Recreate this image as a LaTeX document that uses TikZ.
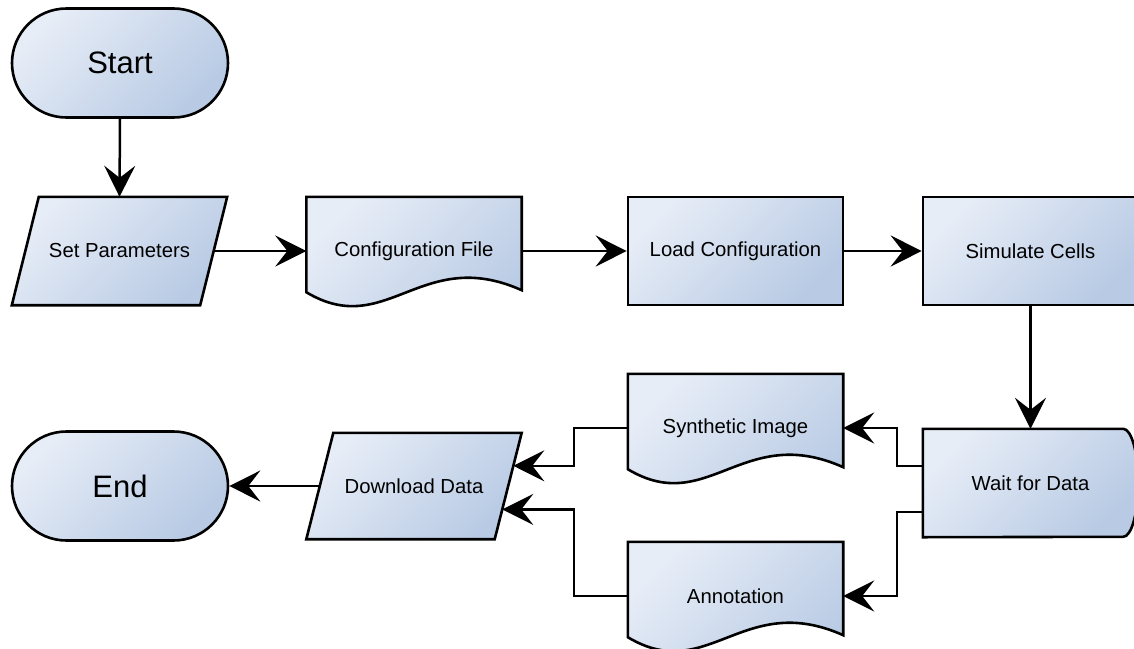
\documentclass[tikz,border=0pt]{standalone}
\usepackage{fontspec}
\setmainfont{Liberation Sans}
\usetikzlibrary{arrows.meta}
\usetikzlibrary{shapes.misc}
\usetikzlibrary{calc}
\usetikzlibrary{backgrounds}
\usepackage{xcolor}

\definecolor{boxlight}{RGB}{231,237,247}
\definecolor{boxdark}{RGB}{184,202,228}

% outlines drawn round a plain node
\newcommand{\docshape}[1]{%
  \path [boxfill] (#1.north west) -- (#1.north east) -- ($(#1.south east)+(0,-15)$)
    .. controls ($(#1.south west)+(115,-60)$) and ($(#1.south west)+(80,35)$) .. ($(#1.south west)+(0,-13)$) -- cycle;}
\newcommand{\ioshape}[1]{%
  \path [boxfill] ([xshift=27pt]#1.north west) -- (#1.north east) -- ([xshift=-27pt]#1.south east) -- (#1.south west) -- cycle;}
\newcommand{\delayshape}[1]{%
  \path [boxfill] (#1.north west) -- ([xshift=-15pt]#1.north east)
    arc [start angle=90, end angle=-90, x radius=15pt, y radius=54pt] -- (#1.south west) -- cycle;}

\begin{document}
\begin{tikzpicture}[x=1pt, y=-1pt,
    >={Stealth[length=31pt, width=31pt, inset=12pt]},
    flow/.style={->, draw=black, line width=2.5pt},
    boxfill/.style={draw=black, line width=2.6pt, top color=boxlight, bottom color=boxdark, shading angle=45},
    steptext/.style={font=\fontsize{20.3}{24}\selectfont, minimum width=215pt, minimum height=108pt, inner sep=0pt},
    terminal/.style={rounded rectangle, boxfill, minimum width=216pt, minimum height=109pt, inner sep=0pt, font=\fontsize{31}{36}\selectfont},
    procbox/.style={rectangle, boxfill, steptext},
    plainbox/.style={rectangle, steptext}]

      \useasboundingbox (0, 0) rectangle (1134, 648);

      % top row
      \node [name=start, terminal] at (120, 63) {Start};
      \node [name=setp, plainbox] at (119.5, 251) {Set Parameters};
      \node [name=cfile, plainbox] at (414, 251) {Configuration File};
      \node [name=loadc, procbox] at (735.5, 251) {Load Configuration};
      \node [name=simc, procbox] at (1030.5, 251) {Simulate Cells};

      % bottom row
      \node [name=waitd, plainbox] at (1030.5, 483) {Wait for Data};
      \node [name=synim, plainbox] at (735.5, 428) {Synthetic Image};
      \node [name=annot, plainbox] at (735.5, 596) {Annotation};
      \node [name=dld, plainbox, minimum height=106pt] at (414, 486) {Download Data};
      \node [name=endn, terminal] at (120, 486) {End};

      % shapes behind the texts
      \begin{pgfonlayer}{background}
        \ioshape{setp}
        \docshape{cfile}
        \delayshape{waitd}
        \docshape{synim}
        \docshape{annot}
        \ioshape{dld}
      \end{pgfonlayer}

      % points on the slanted side of Download Data
      \coordinate (dlin1) at ($(dld.north east)!0.31!([xshift=-27pt]dld.south east)$);
      \coordinate (dlin2) at ($(dld.north east)!0.72!([xshift=-27pt]dld.south east)$);

      % connections
      \draw [flow] (start.south) -- (setp.north);
      \draw [flow] ([xshift=-13.5pt]setp.east) -- (cfile.west);
      \draw [flow] (cfile.east) -- (loadc.west);
      \draw [flow] (loadc.east) -- (simc.west);
      \draw [flow] (simc.south) -- (waitd.north);
      \draw [flow] ([yshift=17pt]waitd.west) -- ++(-26pt, 0) |- (synim.east);
      \draw [flow] ([yshift=-29pt]waitd.west) -- ++(-26pt, 0) |- (annot.east);
      \draw [flow] (synim.west) -- ++(-54pt, 0) |- (dlin1);
      \draw [flow] (annot.west) -- ++(-54pt, 0) |- (dlin2);
      \draw [flow] ([xshift=13.5pt]dld.west) -- (endn.east);

    \end{tikzpicture}
\end{document}
